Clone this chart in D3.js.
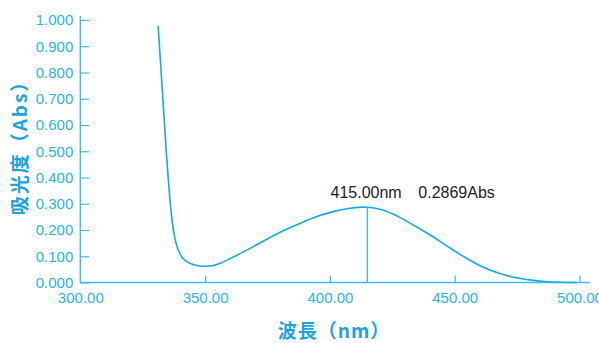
<!DOCTYPE html>
<html><head><meta charset="utf-8">
<script src="https://cdn.jsdelivr.net/npm/d3@7"></script>
<style>body{margin:0;background:#fff}</style>
</head><body>
<svg id="c" width="599" height="343"></svg>
<script>
const wavelengths = [331.2,332.4,333.6,334.5,335.2,335.8,336.5,337.3,338.3,339.4,340.6,342,343.5,345.5,348,350.5,353,356,361.3,368,374.7,381.3,388,394.7,401.4,408,415,420.8,427.4,434.1,440.8,447.4,454.1,460.8,467.5,474.2,480.8,486,492,499];
const absorbance = [0.977,0.80,0.625,0.49,0.40,0.33,0.26,0.20,0.152,0.12,0.098,0.084,0.075,0.068,0.063,0.062,0.064,0.073,0.097,0.130,0.165,0.197,0.225,0.251,0.270,0.283,0.2869,0.277,0.251,0.215,0.177,0.136,0.096,0.061,0.036,0.019,0.009,0.004,0.001,0.0];
const xTicks = [300,350,400,450,500];
const yTicks = [0,0.1,0.2,0.3,0.4,0.5,0.6,0.7,0.8,0.9,1.0];
const peak = {wl:415, abs:0.2869};

const svg = d3.select("#c");
const x = d3.scaleLinear().domain([300,500]).range([80.3,579.5]);
const y = d3.scaleLinear().domain([0,1]).range([282.5,20]);
const axisCol = "#3dbbea", textCol = "#2ab4e8", lineCol = "#12aae6", titleCol = "#1ea2de";

svg.append("line").attr("x1",x(300)).attr("x2",590).attr("y1",y(0)).attr("y2",y(0))
  .attr("stroke",axisCol).attr("stroke-width",1.6);
svg.append("line").attr("x1",x(300)).attr("x2",x(300)).attr("y1",16).attr("y2",y(0))
  .attr("stroke",axisCol).attr("stroke-width",1.4);

const ya = svg.append("g").attr("transform",`translate(${x(300)},0)`)
  .call(d3.axisLeft(y).tickValues(yTicks).tickFormat(d3.format(".3f")).tickSizeInner(-9).tickSizeOuter(0).tickPadding(7));
ya.select(".domain").remove();
ya.selectAll("line").attr("stroke",axisCol).attr("stroke-width",1.2);
ya.selectAll("text").attr("fill",textCol).attr("font-family","Liberation Sans, Arial, sans-serif").attr("font-size",15);

const xa = svg.append("g").attr("transform",`translate(0,${y(0)})`)
  .call(d3.axisBottom(x).tickValues(xTicks).tickFormat(d3.format(".2f")).tickSizeInner(-7).tickSizeOuter(0).tickPadding(10));
xa.select(".domain").remove();
xa.selectAll("line").attr("stroke",axisCol).attr("stroke-width",1.2);
xa.selectAll(".tick").filter(d=>d===300).select("line").remove();
xa.selectAll("text").attr("fill",textCol).attr("font-family","Liberation Sans, Arial, sans-serif").attr("font-size",15);

const line = d3.line().x((d,i)=>x(wavelengths[i])).y(d=>y(d)).curve(d3.curveCatmullRom.alpha(0.5));
svg.append("path").datum(absorbance).attr("d",line).attr("fill","none")
  .attr("stroke",lineCol).attr("stroke-width",1.6);

svg.append("line").attr("x1",x(peak.wl)).attr("x2",x(peak.wl)).attr("y1",y(peak.abs)).attr("y2",y(0))
  .attr("stroke",axisCol).attr("stroke-width",1.4);
const ann = svg.append("g").attr("font-family","Liberation Sans, Arial, sans-serif").attr("font-size",16).attr("fill","#222");
ann.append("text").attr("x",330.5).attr("y",198).text(peak.wl.toFixed(2)+"nm");
ann.append("text").attr("x",418.3).attr("y",198).text(peak.abs.toFixed(4)+"Abs");

svg.append("text").attr("x",334).attr("y",338).attr("text-anchor","middle")
  .attr("font-family","Noto Sans CJK JP, sans-serif").attr("font-weight","bold").attr("font-size",19)
  .attr("letter-spacing",1).attr("fill",titleCol).text("波長（nm）");
svg.append("text").attr("transform","translate(27,143) rotate(-90)").attr("text-anchor","middle")
  .attr("font-family","Noto Sans CJK JP, sans-serif").attr("font-weight","bold").attr("font-size",19)
  .attr("letter-spacing",2).attr("fill",titleCol).text("吸光度（Abs）");
</script>
</body></html>
